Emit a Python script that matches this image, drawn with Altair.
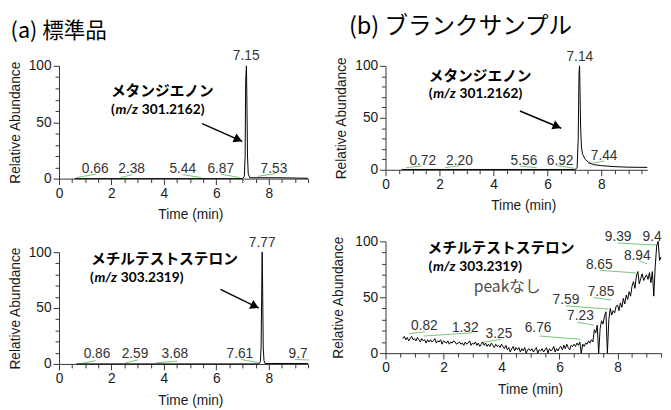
import altair as alt
import pandas as pd

# ---------------- data ----------------
# (a) 標準品, upper trace: methandienone m/z 301.2162
A1_T = [0.60, 7.00, 7.07, 7.10, 7.12, 7.15, 7.17, 7.19, 7.22, 7.28, 8.30, 9.50]
A1_V = [0.0, 0.0, 2.0, 20.0, 85.0, 100.0, 65.0, 20.0, 4.0, 0.8, 0.8, 0.3]
A1_LAB = ["0.66", "2.38", "5.44", "6.87", "7.15", "7.53"]
A1_LAB_T = [1.38, 2.77, 4.72, 6.17, 7.14, 8.20]
A1_LAB_V = [8.7, 8.7, 8.7, 8.7, 108.7, 8.7]
A1_GREEN_T = [[0.67, 1.42], [2.35, 2.80], [4.72, 5.42], [6.17, 6.88], [7.58, 8.26]]
A1_GREEN_V = [[1.0, 4.0], [1.0, 3.5], [3.5, 1.0], [4.0, 1.0], [2.0, 4.5]]

# (a) 標準品, lower trace: methyltestosterone m/z 303.2319
A2_T = [0.66, 7.62, 7.68, 7.71, 7.73, 7.75, 7.77, 7.79, 7.82, 7.86, 9.50]
A2_V = [0.0, 0.0, 2.0, 15.0, 60.0, 100.0, 65.0, 15.0, 3.0, 0.4, 0.4]
A2_LAB = ["0.86", "2.59", "3.68", "7.61", "7.77", "9.7"]
A2_LAB_T = [1.45, 2.90, 4.42, 6.90, 7.75, 9.12]
A2_LAB_V = [8.8, 8.8, 8.8, 8.8, 108.0, 8.8]
A2_GREEN_T = [[0.78, 1.40], [2.53, 3.00], [3.70, 4.50], [6.95, 7.62], [9.00, 9.55]]
A2_GREEN_V = [[0.0, 3.0], [1.0, 3.5], [1.0, 2.5], [4.0, 1.0], [4.0, 3.5]]

# (b) ブランクサンプル, upper trace
B1_T = [0.60, 7.02, 7.10, 7.14, 7.17, 7.19, 7.21, 7.23, 7.26, 7.30, 7.40, 7.53, 7.70, 8.00, 8.50, 9.00, 9.70]
B1_V = [0.3, 0.3, 2.0, 30.0, 93.0, 100.0, 70.0, 40.0, 22.0, 15.0, 10.0, 7.0, 5.0, 4.0, 3.0, 2.5, 2.3]
B1_LAB = ["0.72", "2.20", "5.56", "6.92", "7.14", "7.44"]
B1_LAB_T = [1.38, 2.74, 5.13, 6.47, 7.20, 8.10]
B1_LAB_V = [8.5, 8.5, 8.5, 8.5, 108.0, 13.0]
B1_GREEN_T = [[0.76, 1.35], [2.20, 2.76], [5.00, 5.60], [6.36, 6.98], [7.50, 8.10]]
B1_GREEN_V = [[2.0, 3.7], [2.0, 4.0], [3.5, 2.0], [4.0, 1.5], [5.6, 8.4]]

# (b) ブランクサンプル, lower trace (noisy), sampled every 0.05 min from 0.60 min
B2_START, B2_STEP = 0.60, 0.05
B2_V = [
    13, 15, 12, 14, 11, 13, 15, 12, 13,
    11, 14, 12, 10, 13, 11, 12, 9, 12, 10,
    12, 10, 11, 13, 9, 11, 10, 12, 8, 11,
    10, 9, 11, 8, 10, 9, 11, 10, 8, 9,
    10, 8, 9, 7, 10, 8, 9, 11, 7, 9,
    8, 10, 7, 9, 6, 8, 10, 7, 9, 6,
    8, 6, 9, 7, 5, 8, 6, 7, 5, 8,
    6, 4, 7, 3, 5, 1, 4, 6, 2, 5,
    3, 5, 1, 4, 2, 5, 0, 3, 4, 2,
    4, 1, 3, 5, 0, 3, 2, 4, 1, 3,
    5, 0, 4, 2, 3, 6, 1, 4, 2, 5,
    6, 3, 7, 4, 8, 5, 3, 7, 6, 8,
    6, 9, 7, 10, 0, 8, 6, 9, 8, 11,
    9, 12, 10, 21, 18, 25, 0, 22, 29, 26,
    33, 37, 0, 30, 40, 34, 38, 36, 42, 43,
    38, 45, 41, 49, 44, 52, 48, 55, 51, 60,
    64, 58, 69, 73, 62, 67, 71, 65, 68, 70,
    66, 72, 63, 73, 51, 78, 96, 100, 83, 86,
]
B2_LAB = ["0.82", "1.32", "3.25", "6.76", "7.23", "7.59", "7.85", "8.65", "8.94", "9.39", "9.4"]
B2_LAB_T = [1.34, 2.75, 3.91, 5.26, 6.72, 6.22, 7.43, 7.37, 8.68, 8.02, 9.19]
B2_LAB_V = [24.0, 22.7, 16.8, 22.7, 33.0, 47.6, 54.5, 79.0, 86.8, 104.0, 104.0]
B2_GREEN_T = [[0.81, 1.37], [1.31, 3.00], [3.29, 3.97], [5.32, 6.72], [6.61, 7.18],
              [6.22, 7.68], [7.18, 7.79], [7.40, 8.64], [8.75, 9.03], [8.00, 9.37]]
B2_GREEN_V = [[17.4, 19.1], [15.3, 18.2], [9.4, 12.3], [15.3, 12.3], [27.7, 25.0],
              [42.3, 39.4], [49.7, 47.6], [74.0, 71.8], [82.4, 80.0], [98.5, 96.7]]

NAME_METH = "メタンジエノン"
NAME_MT = "メチルテストステロン"
MZ_METH = "301.2162)"
MZ_MT = "303.2319)"
NO_PEAK = "peakなし"

# annotation anchors (data units): name label, m/z label, arrow start/end
A1_NAME_TV, A1_MZ_TV, A1_ARROW = (1.98, 78), (1.98, 61), (5.46, 48.7, 6.99, 33.0)
B1_NAME_TV, B1_MZ_TV, B1_ARROW = (1.60, 90), (1.60, 72.5), (4.98, 56.6, 6.51, 40.0)
A2_NAME_TV, A2_MZ_TV, A2_ARROW = (1.22, 94), (1.18, 77), (6.16, 66.7, 7.62, 50.0)
B2_NAME_TV, B2_MZ_TV, B2_NOPEAK_TV = (1.45, 94), (1.48, 77), (3.04, 59)

TITLE_A = "(a) 標準品"
TITLE_B = "(b) ブランクサンプル"

# ---------------- helpers ----------------
JP = "Noto Sans CJK JP"
SANS = "Liberation Sans"
GREEN = "#74c874"


def panel(trace_t, trace_v, lab, lab_t, lab_v, g_t, g_v, name, name_tv, mz, mz_tv,
          xmax, w, h, ytitle_pad, arrow=None, arrow_angle=0, extra=None, title=None):
    xticks = [i * 0.5 for i in range(int(xmax / 0.5) + 1)]
    xaxis = alt.Axis(values=xticks, title="Time (min)",
                     labelExpr="datum.value % 2 == 0 ? '' + datum.value : ''",
                     tickSize={"condition": {"test": "datum.value % 2 == 0", "value": 6}, "value": 4},
                     labelOverlap=False, labelFlush=False, titleX=w / 2 + 7)
    yaxis = alt.Axis(values=list(range(0, 101, 10)), title="Relative Abundance",
                     labelExpr="datum.value % 50 == 0 ? '' + datum.value : ''",
                     tickSize={"condition": {"test": "datum.value % 50 == 0", "value": 6}, "value": 4},
                     labelOverlap=False, labelFlush=False, titlePadding=ytitle_pad)
    X = alt.X("t:Q", scale=alt.Scale(domain=[0, xmax], nice=False, zero=False), axis=xaxis)
    Y = alt.Y("v:Q", scale=alt.Scale(domain=[0, 100], nice=False, zero=False), axis=yaxis)

    tr = pd.DataFrame({"t": trace_t, "v": trace_v})
    labs = pd.DataFrame({"t": lab_t, "v": lab_v, "txt": lab})
    gr = pd.DataFrame({
        "t": [t for seg in g_t for t in seg],
        "v": [v for seg in g_v for v in seg],
        "g": [i for i, seg in enumerate(g_t) for _ in seg],
    })
    layers = [
        alt.Chart(gr).mark_line(color=GREEN, strokeWidth=1).encode(x=X, y=Y, detail="g:N"),
        alt.Chart(tr).mark_line(color="black", strokeWidth=1).encode(x=X, y=Y),
        alt.Chart(labs).mark_text(font=SANS, fontSize=14, color="#333333", baseline="middle")
        .encode(x=X, y=Y, text="txt:N"),
        alt.Chart(pd.DataFrame({"t": [name_tv[0]], "v": [name_tv[1]], "txt": [name]}))
        .mark_text(font=JP, fontSize=15, fontWeight="bold", color="black", align="left", baseline="middle")
        .encode(x=X, y=Y, text="txt:N"),
    ]
    mzdf = pd.DataFrame({"t": [mz_tv[0]], "v": [mz_tv[1]]})
    for txt, dx, style in [("(", 0, "normal"), ("m/z", 4.6, "italic"), (mz, 31.5, "normal")]:
        layers.append(
            alt.Chart(mzdf.assign(txt=txt))
            .mark_text(font="Lato", fontSize=14, fontWeight="bold", fontStyle=style, color="black",
                       align="left", baseline="middle", dx=dx)
            .encode(x=X, y=Y, text="txt:N"))
    if arrow is not None:
        t1, v1, t2, v2 = arrow
        adf = pd.DataFrame({"t": [t1], "v": [v1], "t2": [t2], "v2": [v2]})
        layers.append(alt.Chart(adf).mark_rule(color="black", strokeWidth=1.5)
                      .encode(x=X, y=Y, x2="t2:Q", y2="v2:Q"))
        # head centred just short of the tip so the tip lands on the arrow's end
        head = pd.DataFrame({"t": [t2 - 0.1 * (t2 - t1)], "v": [v2 - 0.1 * (v2 - v1)]})
        layers.append(alt.Chart(head)
                      .mark_point(shape="triangle-right", filled=True, color="black", opacity=1,
                                  size=95, angle=arrow_angle)
                      .encode(x=X, y=Y))
    if extra is not None:
        layers.append(
            alt.Chart(pd.DataFrame({"t": [extra[1][0]], "v": [extra[1][1]], "txt": [extra[0]]}))
            .mark_text(font=JP, fontSize=16, color="#4d4d4d", align="left", baseline="middle")
            .encode(x=X, y=Y, text="txt:N"))
    props = dict(width=w, height=h)
    if title is not None:
        props["title"] = alt.Title(title[0], anchor="start", frame="bounds", font=JP,
                                   fontSize=title[1], fontWeight="normal", color="black",
                                   offset=title[2], dx=title[3])
    return alt.layer(*layers).properties(**props)


b2_t = [round(B2_START + B2_STEP * i, 2) for i in range(len(B2_V))]

a1 = panel(A1_T, A1_V, A1_LAB, A1_LAB_T, A1_LAB_V, A1_GREEN_T, A1_GREEN_V,
           NAME_METH, A1_NAME_TV, MZ_METH, A1_MZ_TV, 9.5, 254, 115, 6,
           arrow=A1_ARROW, arrow_angle=24, title=(TITLE_A, 22, 6, 2))
a2 = panel(A2_T, A2_V, A2_LAB, A2_LAB_T, A2_LAB_V, A2_GREEN_T, A2_GREEN_V,
           NAME_MT, A2_NAME_TV, MZ_MT, A2_MZ_TV, 9.5, 254, 114, 6,
           arrow=A2_ARROW, arrow_angle=26)
b1 = panel(B1_T, B1_V, B1_LAB, B1_LAB_T, B1_LAB_V, B1_GREEN_T, B1_GREEN_V,
           NAME_METH, B1_NAME_TV, MZ_METH, B1_MZ_TV, 9.7, 267, 106, 6,
           arrow=B1_ARROW, arrow_angle=22, title=(TITLE_B, 24, 12, 14))
b2 = panel(b2_t, B2_V, B2_LAB, B2_LAB_T, B2_LAB_V, B2_GREEN_T, B2_GREEN_V,
           NAME_MT, B2_NAME_TV, MZ_MT, B2_MZ_TV, 9.5, 281, 114, 10,
           extra=(NO_PEAK, B2_NOPEAK_TV))

left = alt.concat(a1, a2, columns=1, spacing=14, align="none")
right = alt.concat(b1, b2, columns=1, spacing=17, align="none")

chart = (
    alt.concat(left, right, columns=2, spacing=19, align="none")
    .properties(padding={"top": 3, "left": 0, "right": 0, "bottom": 0}, background="white")
    .configure_view(stroke=None)
    .configure_axis(domainColor="#333333", tickColor="#333333", domainWidth=1, tickWidth=1,
                    labelFont=SANS, labelFontSize=14, labelColor="#1a1a1a", labelPadding=2,
                    titleFont=SANS, titleFontSize=14, titleFontWeight="normal", titleColor="#1a1a1a",
                    grid=False)
    .configure_axisX(titlePadding=8)
)

chart.save("out.html", embed_options={"renderer": "svg", "actions": False})
